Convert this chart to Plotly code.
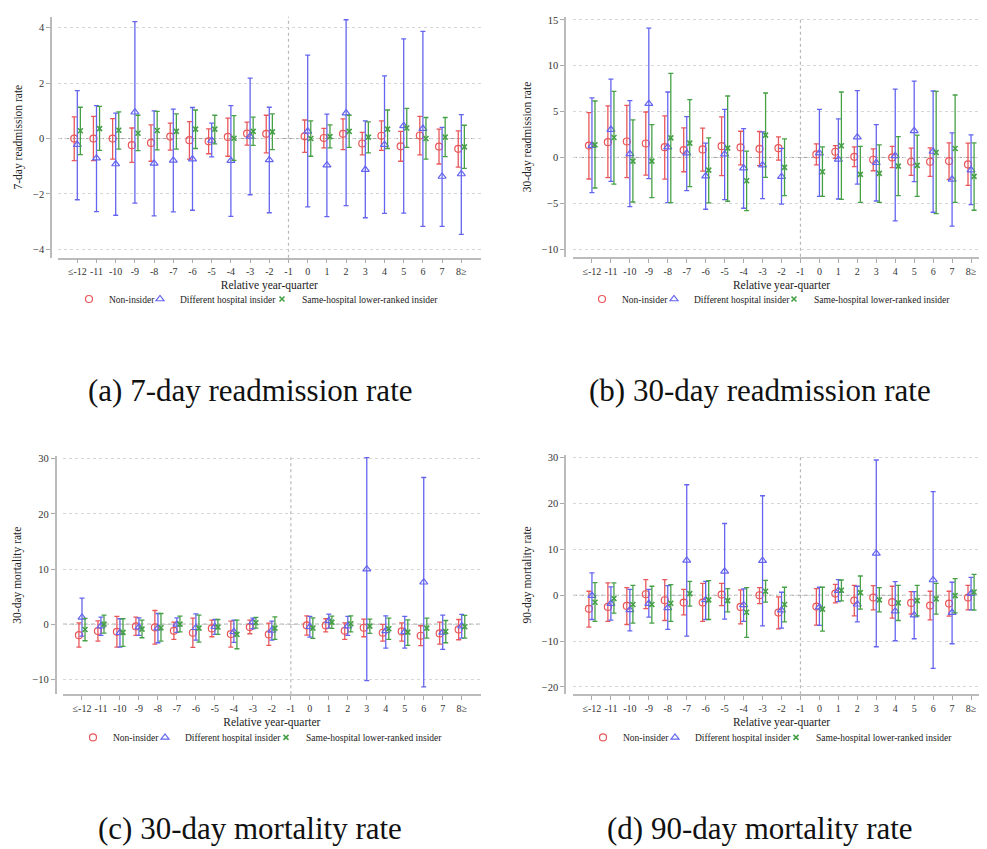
import plotly.graph_objects as go

W, H = 987, 849

# ---------------- data ----------------
periods = [-12, -11, -10, -9, -8, -7, -6, -5, -4, -3, -2, 0, 1, 2, 3, 4, 5, 6, 7, 8]
tick_vals = list(range(-12, 9))
tick_text = ["\u2264-12", "-11", "-10", "-9", "-8", "-7", "-6", "-5", "-4", "-3", "-2", "-1",
             "0", "1", "2", "3", "4", "5", "6", "7", "8\u2265"]
series_names = ["Non-insider", "Different hospital insider", "Same-hospital lower-ranked insider"]

# (a) 7-day readmission rate
r7_non = [0.0, 0.0, 0.0, -0.24, -0.16, 0.07, -0.06, -0.10, 0.06, 0.18, 0.17, 0.08, 0.02, 0.17, -0.18, 0.10, -0.28, 0.11, -0.29, -0.37]
r7_non_hi = [0.78, 0.80, 0.72, 0.38, 0.49, 0.56, 0.61, 0.35, 0.74, 0.59, 0.84, 0.67, 0.37, 0.71, 0.22, 0.64, 0.26, 0.80, 0.34, 0.28]
r7_non_lo = [-0.80, -0.80, -0.74, -0.86, -0.82, -0.42, -0.74, -0.55, -0.64, -0.24, -0.52, -0.50, -0.34, -0.40, -0.59, -0.43, -0.82, -0.59, -0.92, -1.03]
r7_diff = [-0.22, -0.71, -0.92, 0.95, -0.90, -0.79, -0.74, -0.07, -0.80, 0.08, -0.77, 0.26, -0.96, 0.92, -1.12, -0.22, 0.46, 0.36, -1.37, -1.28]
r7_diff_hi = [1.73, 1.19, 0.92, 4.22, 1.00, 1.06, 1.12, 0.56, 1.19, 2.18, 1.13, 3.01, 0.88, 4.29, 0.64, 2.26, 3.60, 3.87, 0.40, 0.86]
r7_diff_lo = [-2.21, -2.64, -2.77, -2.33, -2.79, -2.65, -2.59, -0.66, -2.81, -2.03, -2.68, -2.47, -2.82, -2.42, -2.86, -2.70, -2.69, -3.17, -3.17, -3.46]
r7_same = [0.28, 0.36, 0.30, 0.19, 0.29, 0.26, 0.34, 0.34, 0.01, 0.26, 0.24, 0.00, 0.07, 0.26, 0.05, 0.34, 0.38, 0.00, 0.05, -0.30]
r7_same_hi = [1.13, 1.16, 0.96, 0.84, 0.98, 0.89, 1.03, 0.84, 0.83, 0.77, 0.89, 0.64, 0.49, 0.84, 0.60, 1.03, 1.09, 0.76, 0.76, 0.48]
r7_same_lo = [-0.58, -0.43, -0.38, -0.44, -0.41, -0.38, -0.36, -0.19, -0.79, -0.25, -0.40, -0.64, -0.34, -0.32, -0.52, -0.36, -0.32, -0.74, -0.65, -1.08]

# (b) 30-day readmission rate
r30_non = [1.30, 1.67, 1.74, 1.52, 1.12, 0.80, 0.87, 1.23, 1.09, 0.94, 1.01, 0.33, 0.62, 0.07, -0.25, 0.00, -0.47, -0.47, -0.40, -0.76]
r30_non_hi = [4.90, 5.62, 5.69, 4.96, 4.53, 3.22, 3.19, 4.42, 2.86, 2.83, 2.25, 1.49, 1.30, 1.16, 0.94, 1.20, 1.01, 1.05, 1.59, 1.56]
r30_non_lo = [-2.35, -2.21, -2.21, -1.92, -2.36, -1.56, -1.49, -1.99, -0.80, -0.90, -0.29, -0.80, -0.11, -1.01, -1.45, -1.12, -1.96, -2.07, -2.39, -3.04]
r30_diff = [1.30, 3.04, 0.40, 5.87, 1.12, 0.47, -2.03, 0.36, -1.16, -0.83, -2.10, 0.47, -0.22, 2.21, -0.58, 0.18, 2.90, 0.65, -2.39, -1.38]
r30_diff_hi = [6.50, 8.55, 6.20, 14.10, 7.14, 4.46, 1.56, 5.25, 3.15, 2.79, 0.98, 5.25, 4.20, 7.28, 3.59, 7.46, 8.33, 7.25, 2.68, 2.46]
r30_diff_lo = [-3.84, -2.61, -5.36, -2.32, -4.93, -3.62, -5.65, -4.60, -5.54, -4.49, -5.10, -4.24, -4.53, -2.90, -4.75, -6.92, -2.64, -5.98, -7.50, -5.14]
r30_same = [1.38, 2.17, -0.40, -0.40, 2.14, 1.56, -1.38, 1.01, -2.54, 2.43, -1.09, -1.56, 1.27, -1.85, -1.74, -0.94, -0.87, 0.54, 0.98, -2.07]
r30_same_hi = [6.16, 7.21, 4.09, 3.59, 9.17, 6.30, 2.14, 6.70, 0.69, 7.03, 2.03, 1.16, 7.14, 1.20, 1.38, 2.28, 2.43, 7.21, 6.81, 1.59]
r30_same_lo = [-3.33, -2.90, -4.86, -4.38, -4.93, -3.19, -4.96, -4.78, -5.80, -2.17, -4.17, -4.24, -4.57, -4.89, -4.89, -4.17, -4.24, -6.12, -4.89, -5.76]

# (c) 30-day mortality rate
m30_non = [-2.00, -1.27, -1.39, -0.42, -0.60, -1.21, -1.57, -0.78, -1.81, -0.54, -1.87, -0.24, -0.24, -1.21, -0.66, -1.57, -1.33, -2.11, -1.69, -0.97]
m30_non_hi = [0.24, 0.60, 1.39, 1.27, 2.47, 0.36, 1.09, 0.72, 0.54, 0.72, 0.18, 1.51, 0.97, 0.24, 0.90, -0.06, 0.24, -0.30, 0.36, 0.84]
m30_non_lo = [-4.16, -3.08, -4.16, -2.05, -3.62, -2.78, -4.22, -2.29, -4.16, -1.75, -3.86, -1.99, -1.39, -2.78, -2.29, -3.08, -3.08, -3.92, -3.62, -2.84]
m30_diff = [1.21, -0.36, -1.57, -0.54, -0.72, -0.06, -0.66, -0.48, -1.39, 0.36, -1.15, -0.48, 0.60, -0.36, 9.96, -1.21, -1.39, 7.60, -1.50, -0.36]
m30_diff_hi = [4.70, 1.27, 0.97, 1.15, 1.93, 1.15, 1.87, 0.84, 0.72, 1.09, 0.54, 1.39, 1.81, 1.39, 30.20, 1.51, 1.39, 26.60, 1.63, 1.75]
m30_diff_lo = [-2.17, -2.05, -4.16, -2.05, -3.38, -1.50, -2.90, -1.87, -3.32, -0.84, -2.90, -2.35, -0.72, -2.05, -10.26, -4.35, -4.35, -11.40, -4.59, -2.53]
m30_same = [-0.97, 0.00, -1.50, -0.90, -0.66, 0.00, -0.72, -0.54, -1.87, 0.24, -0.72, -0.72, 0.36, 0.06, -0.36, -0.84, -1.45, -0.72, -1.33, -0.48]
m30_same_hi = [1.03, 1.63, 0.97, 0.72, 1.93, 1.45, 1.63, 0.84, 0.72, 1.21, 1.33, 1.15, 1.45, 1.51, 0.90, 1.09, 0.78, 1.09, 0.66, 1.57]
m30_same_lo = [-3.02, -1.63, -4.04, -2.47, -3.08, -1.39, -3.26, -1.87, -4.47, -0.72, -2.78, -2.60, -0.78, -1.39, -1.69, -2.78, -3.86, -2.53, -3.38, -2.53]

# (d) 90-day mortality rate
m90_non = [-2.97, -2.54, -2.32, 0.22, -1.09, -1.59, -1.59, 0.14, -2.54, 0.00, -3.77, -2.46, 0.36, -1.16, -0.51, -1.52, -1.67, -2.25, -1.81, -0.51]
m90_non_hi = [0.87, 2.68, 1.67, 3.41, 3.41, 1.30, 2.61, 2.61, 1.16, 1.67, -0.36, 1.45, 2.39, 2.17, 2.10, 1.96, 0.80, 0.87, 0.87, 2.17]
m90_non_lo = [-6.96, -5.72, -6.38, -2.90, -5.51, -4.28, -5.72, -2.25, -6.23, -1.81, -7.32, -6.52, -1.67, -4.49, -3.19, -5.00, -4.13, -5.36, -4.57, -3.19]
m90_diff = [-0.07, -1.81, -3.19, -1.81, -2.75, 7.61, -1.01, 5.22, -2.10, 7.54, -3.26, -2.61, 1.01, -1.96, 9.13, -3.48, -4.35, 3.33, -3.77, 0.36]
m90_diff_hi = [4.86, 1.81, 1.30, 1.30, 2.10, 24.10, 3.04, 15.65, 1.38, 21.70, 0.65, 1.74, 3.41, 1.96, 29.50, 2.97, 0.80, 22.60, 2.83, 3.91]
m90_diff_lo = [-5.29, -5.43, -7.75, -4.78, -7.46, -8.91, -5.29, -5.22, -5.72, -6.67, -7.17, -6.59, -1.38, -5.80, -11.23, -9.93, -9.49, -15.94, -10.58, -3.19]
m90_same = [-1.52, -0.72, -2.03, -2.03, -1.74, 0.36, -1.01, -1.16, -3.70, 0.87, -2.03, -3.04, 1.09, 0.58, -1.01, -1.67, -1.16, -0.80, -0.07, 0.72]
m90_same_hi = [2.75, 2.68, 2.17, 1.96, 2.32, 3.04, 3.19, 1.45, 1.67, 3.26, 1.74, 1.74, 3.33, 4.20, 1.67, 2.17, 2.17, 2.61, 3.62, 4.57]
m90_same_lo = [-5.72, -3.91, -6.09, -6.09, -5.72, -2.39, -5.29, -3.62, -9.20, -1.52, -5.80, -7.83, -1.23, -3.04, -3.62, -5.51, -4.49, -4.13, -3.84, -3.26]

# ---------------- styling / layout ----------------
SERIF = "Liberation Serif, Times New Roman, serif"
COLORS = ["#e8575a", "#6464f0", "#46a046"]
OFFSETS = [-0.16, 0.0, 0.16]
SYMBOLS = [("circle-open", 7, 1.2), ("triangle-up-open", 7, 1.2), ("x-thin", 5, 1.6)]

def px(xp):
    return xp / W

def py(yp):
    return 1 - yp / H

panels = [
    dict(ytitle="7-day readmission rate", caption="(a) 7-day readmission rate",
         data=[(r7_non, r7_non_lo, r7_non_hi), (r7_diff, r7_diff_lo, r7_diff_hi), (r7_same, r7_same_lo, r7_same_hi)],
         yticks=[-4, -2, 0, 2, 4], yr=[-4.3, 4.4], ypx=(5.7, 247.5),
         xpx=(50.1, 472.5), yaxpx=43, legx=[92, 163, 285], legy=289, cap=(242, 381)),
    dict(ytitle="30-day readmission rate", caption="(b) 30-day readmission rate",
         data=[(r30_non, r30_non_lo, r30_non_hi), (r30_diff, r30_diff_lo, r30_diff_hi), (r30_same, r30_same_lo, r30_same_hi)],
         yticks=[-10, -5, 0, 5, 10, 15], yr=[-10.84, 15.3], ypx=(6.2, 246.7),
         xpx=(565, 982), yaxpx=557, legx=[605, 677, 797], legy=289, cap=(752, 381)),
    dict(ytitle="30-day mortality rate", caption="(c) 30-day mortality rate",
         data=[(m30_non, m30_non_lo, m30_non_hi), (m30_diff, m30_diff_lo, m30_diff_hi), (m30_same, m30_same_lo, m30_same_hi)],
         yticks=[-10, 0, 10, 20, 30], yr=[-12.73, 30.5], ypx=(446.6, 685.7),
         xpx=(55, 472.7), yaxpx=47.7, legx=[96, 168, 289], legy=729, cap=(242, 820)),
    dict(ytitle="90-day mortality rate", caption="(d) 90-day mortality rate",
         data=[(m90_non, m90_non_lo, m90_non_hi), (m90_diff, m90_diff_lo, m90_diff_hi), (m90_same, m90_same_lo, m90_same_hi)],
         yticks=[-20, -10, 0, 10, 20, 30], yr=[-21.6, 30.5], ypx=(446, 685.7),
         xpx=(565, 982), yaxpx=557, legx=[606, 678, 799], legy=729, cap=(752, 820)),
]

fig = go.Figure()
layout = dict(width=W, height=H, autosize=False, margin=dict(l=0, r=0, t=0, b=0),
              paper_bgcolor="white", plot_bgcolor="white",
              font=dict(family=SERIF, size=11, color="#333"), showlegend=True)
shapes = []
annotations = []

for k, p in enumerate(panels):
    n = "" if k == 0 else str(k + 1)
    xa, ya = "x" + n, "y" + n
    for s in range(3):
        vals, lo, hi = p["data"][s]
        li = k * 3 + s + 1
        legname = "legend" if li == 1 else "legend" + str(li)
        sym, size, lw = SYMBOLS[s]
        fig.add_trace(go.Scatter(
            x=[v + OFFSETS[s] for v in periods], y=vals, mode="markers",
            name=series_names[s], xaxis=xa, yaxis=ya, legend=legname,
            marker=dict(color=COLORS[s], symbol=sym, size=size,
                        line=dict(width=lw, color=COLORS[s])),
            error_y=dict(type="data", symmetric=False,
                         array=[h - v for h, v in zip(hi, vals)],
                         arrayminus=[v - l for v, l in zip(vals, lo)],
                         color=COLORS[s], thickness=1.3, width=2.5),
            hoverinfo="x+y"))
        layout[legname] = dict(
            orientation="h", x=px(p["legx"][s] - 31), y=py(p["legy"]),
            xanchor="left", yanchor="middle",
            font=dict(size=9.5, color="#222"), bgcolor="rgba(0,0,0,0)",
            itemwidth=30, borderwidth=0)
    layout["xaxis" + n] = dict(
        domain=[px(p["xpx"][0]), px(p["xpx"][1])], range=[-13, 9], anchor=ya,
        tickvals=tick_vals, ticktext=tick_text, tickangle=0, ticks="outside", ticklen=4,
        tickcolor="#aaa", showline=True, linecolor="#bbb", linewidth=1.5,
        showgrid=False, zeroline=False, tickfont=dict(size=10, color="#333"),
        title=dict(text="Relative year-quarter", font=dict(size=11.5, color="#222"), standoff=5))
    layout["yaxis" + n] = dict(
        domain=[py(p["ypx"][1]), py(p["ypx"][0])], range=p["yr"], anchor="free",
        position=px(p["yaxpx"]), tickvals=p["yticks"], ticks="outside", ticklen=4,
        tickcolor="#aaa", showline=True, linecolor="#bbb", linewidth=1.5,
        showgrid=True, gridcolor="#d6d6d6", griddash="dot", gridwidth=1,
        zeroline=False, tickfont=dict(size=10.5, color="#333"),
        title=dict(text=p["ytitle"], font=dict(size=11.5, color="#222"), standoff=7))
    # reference lines
    shapes.append(dict(type="line", xref=xa + " domain", yref=ya, x0=0.0, x1=1.0, y0=0, y1=0,
                       line=dict(color="#a0a0a0", width=1, dash="4px,3px"), layer="below"))
    shapes.append(dict(type="line", xref=xa, yref=ya + " domain", x0=-1, x1=-1, y0=0, y1=1,
                       line=dict(color="#b8b8b8", width=1.2, dash="3px,3px"), layer="below"))
    annotations.append(dict(text=p["caption"], x=px(p["cap"][0]), y=py(p["cap"][1]),
                            xref="paper", yref="paper", xanchor="center", yanchor="middle",
                            showarrow=False, font=dict(family=SERIF, size=31, color="#111")))

layout["shapes"] = shapes
layout["annotations"] = annotations
fig.update_layout(**layout)
fig.write_html("out.html")
